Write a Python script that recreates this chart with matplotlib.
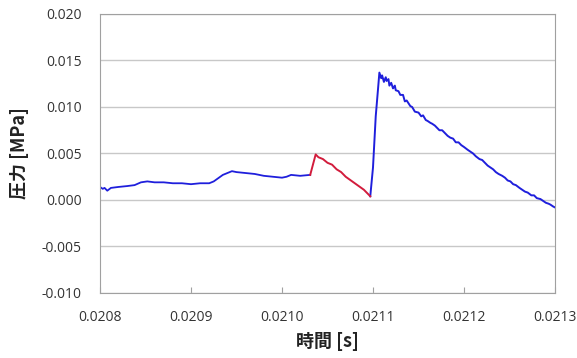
import matplotlib
matplotlib.use("Agg")
import matplotlib.pyplot as plt

# Blue segment before the red section
t_blue1 = [0.020800, 0.020803, 0.020805, 0.020808, 0.020812, 0.020820, 0.020830, 0.020838,
           0.020845, 0.020852, 0.020860, 0.020870, 0.020880, 0.020890, 0.020900,
           0.020910, 0.020920, 0.020925, 0.020935, 0.020945, 0.020950, 0.020960,
           0.020970, 0.020980, 0.020990, 0.021000, 0.021005, 0.021010, 0.021020,
           0.021031]
p_blue1 = [0.0014, 0.0012, 0.0013, 0.0010, 0.0013, 0.0014, 0.0015, 0.0016,
           0.0019, 0.0020, 0.0019, 0.0019, 0.0018, 0.0018, 0.0017,
           0.0018, 0.0018, 0.0020, 0.0027, 0.0031, 0.0030, 0.0029,
           0.0028, 0.0026, 0.0025, 0.0024, 0.0025, 0.0027, 0.0026,
           0.0027]

# Red segment
t_red = [0.021031, 0.021034, 0.021037, 0.021040, 0.021045, 0.021050, 0.021055, 0.021060,
         0.021065, 0.021070, 0.021080, 0.021090, 0.021094, 0.021097]
p_red = [0.0027, 0.0038, 0.0049, 0.0046, 0.0044, 0.0040, 0.0038, 0.0033,
         0.0030, 0.0025, 0.0018, 0.0011, 0.0007, 0.0004]

# Blue segment after the red section
t_blue2 = [0.021097, 0.021100, 0.021103, 0.021106, 0.021107, 0.021109, 0.021110, 0.021112,
           0.021114, 0.021115, 0.021117, 0.021118, 0.021120, 0.021122, 0.021124, 0.021125,
           0.021128, 0.021130, 0.021133, 0.021135, 0.021137, 0.021141, 0.021143, 0.021146,
           0.021150, 0.021153, 0.021155, 0.021158, 0.021160, 0.021163, 0.021165, 0.021168,
           0.021170, 0.021173, 0.021176, 0.021179, 0.021182, 0.021185, 0.021188, 0.021191,
           0.021194, 0.021197, 0.021200, 0.021204, 0.021207, 0.021210, 0.021213, 0.021217,
           0.021220, 0.021223, 0.021226, 0.021229, 0.021232, 0.021235, 0.021238, 0.021242,
           0.021245, 0.021248, 0.021251, 0.021254, 0.021257, 0.021261, 0.021264, 0.021267,
           0.021270, 0.021274, 0.021277, 0.021280, 0.021284, 0.021287, 0.021290, 0.021293,
           0.021295, 0.021298, 0.021300]
p_blue2 = [0.0004, 0.0035, 0.0090, 0.0125, 0.0137, 0.0131, 0.0134, 0.0127,
           0.0132, 0.0128, 0.0130, 0.0123, 0.0126, 0.0120, 0.0123, 0.0118,
           0.0117, 0.0113, 0.0113, 0.0106, 0.0107, 0.0101, 0.0100, 0.0095,
           0.0094, 0.0090, 0.0091, 0.0086, 0.0085, 0.0083, 0.0082, 0.0080,
           0.0078, 0.0075, 0.0075, 0.0072, 0.0069, 0.0067, 0.0066, 0.0062,
           0.0062, 0.0059, 0.0057, 0.0054, 0.0052, 0.0050, 0.0047, 0.0044,
           0.0043, 0.0040, 0.0037, 0.0035, 0.0033, 0.0030, 0.0028, 0.0026,
           0.0024, 0.0021, 0.0020, 0.0017, 0.0016, 0.0013, 0.0011, 0.0009,
           0.0008, 0.0005, 0.0005, 0.0002, 0.0001, -0.0001, -0.0003, -0.0004,
           -0.0005, -0.0007, -0.0008]

x_ticks = [0.0208, 0.0209, 0.0210, 0.0211, 0.0212, 0.0213]
x_tick_labels = ["0.0208", "0.0209", "0.0210", "0.0211", "0.0212", "0.0213"]
y_ticks = [-0.010, -0.005, 0.000, 0.005, 0.010, 0.015, 0.020]
y_tick_labels = ["-0.010", "-0.005", "0.000", "0.005", "0.010", "0.015", "0.020"]

fig = plt.figure(figsize=(5.77, 3.58), dpi=100)
ax = fig.add_axes([100/577, 65/358, 455/577, 279/358])

ax.plot(t_blue1, p_blue1, color="#1f1fdc", lw=1.3)
ax.plot(t_blue2, p_blue2, color="#1f1fdc", lw=1.4)
ax.plot(t_red, p_red, color="#d21c3c", lw=1.4)

ax.set_xlim(0.0208, 0.0213)
ax.set_ylim(-0.010, 0.020)
ax.set_xticks(x_ticks)
ax.set_xticklabels(x_tick_labels)
ax.set_yticks(y_ticks)
ax.set_yticklabels(y_tick_labels)

ax.yaxis.grid(True, color="#c8c8c8", lw=1.0)
ax.set_axisbelow(True)
for s in ["left", "bottom", "right", "top"]:
    ax.spines[s].set_color("#a0a0a0")
ax.tick_params(axis="x", direction="in", length=4, color="#a0a0a0", pad=12,
               labelsize=10, labelcolor="#333333")
ax.tick_params(axis="y", length=0, pad=13, labelsize=10, labelcolor="#333333")
for lab in ax.get_xticklabels() + ax.get_yticklabels():
    lab.set_family(["Open Sans", "DejaVu Sans"])

ax.set_xlabel("時間 [s]", family=["Noto Sans CJK JP", "DejaVu Sans"],
              fontweight="bold", fontsize=13, color="#222222", labelpad=5)
ax.set_ylabel("圧力 [MPa]", family=["Noto Sans CJK JP", "DejaVu Sans"],
              fontweight="bold", fontsize=13, color="#222222", labelpad=9)

fig.savefig("out.png", dpi=100)
